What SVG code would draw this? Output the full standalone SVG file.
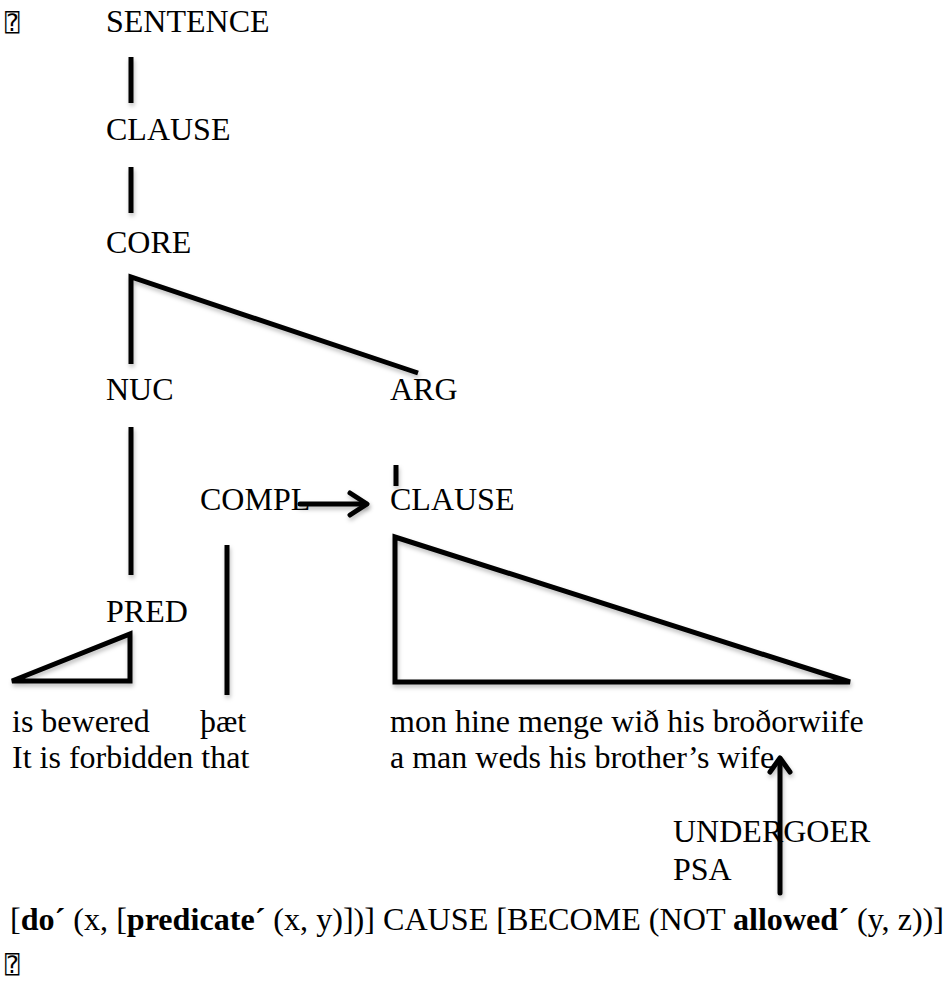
<svg xmlns="http://www.w3.org/2000/svg" width="948" height="997" viewBox="0 0 948 997">
<defs>
<filter id="sh" filterUnits="userSpaceOnUse" x="0" y="0" width="948" height="997">
<feDropShadow dx="1" dy="3" stdDeviation="2" flood-color="#000" flood-opacity="0.25"/>
</filter>
</defs>
<style>
text{font-family:"Liberation Serif","Times New Roman",serif;font-size:32px;fill:#000}
.ln{stroke:#000;stroke-width:5;fill:none;stroke-linecap:butt;stroke-linejoin:miter;filter:url(#sh)}
.ar{stroke:#000;stroke-width:5;fill:none;stroke-linecap:round;stroke-linejoin:round;filter:url(#sh)}
.b{font-weight:bold}
.tofu{font-family:"DejaVu Sans Mono","DejaVu Sans",monospace;font-size:24px}
</style>
<rect width="948" height="997" fill="#fff"/>
<text class="tofu" x="5" y="31">⍰</text>
<g id="n-sentence"><text x="106" y="32">SENTENCE</text></g>
<g id="n-clause1"><text x="106" y="140">CLAUSE</text></g>
<g id="n-core"><text x="106" y="253">CORE</text></g>
<g id="n-nuc"><text x="106" y="400">NUC</text></g>
<g id="n-arg"><text x="390" y="400">ARG</text></g>
<g id="n-compl"><text x="200" y="510">COMPL</text></g>
<g id="n-clause2"><text x="390" y="510">CLAUSE</text></g>
<g id="n-pred"><text x="106" y="622">PRED</text></g>
<g id="n-words1"><text x="12" y="732">is bewered</text><text x="12" y="768">It is forbidden that</text></g>
<g id="n-words2"><text x="200" y="732">þæt</text></g>
<g id="n-words3"><text x="390" y="732">mon hine menge wið his broðorwiife</text><text x="390" y="768">a man weds his brother’s wife</text></g>
<g id="n-undergoer"><text x="673" y="842">UNDERGOER</text><text x="673" y="880">PSA</text></g>
<g id="n-logic"><text x="10" y="930" font-size="33" textLength="934" lengthAdjust="spacingAndGlyphs">[<tspan class="b">do´</tspan> (x, [<tspan class="b">predicate´</tspan> (x, y)])] CAUSE [BECOME (NOT <tspan class="b">allowed´</tspan> (y, z))]</text></g>
<text class="tofu" x="5" y="973">⍰</text>
<g id="connectors">
<line class="ln" x1="131" y1="57" x2="131" y2="103"/>
<line class="ln" x1="131" y1="167" x2="131" y2="213"/>
<polyline class="ln" points="131,364 131,277 418,373"/>
<line class="ln" x1="131" y1="427" x2="131" y2="575"/>
<line class="ln" x1="396" y1="465" x2="396" y2="486"/>
<line class="ln" x1="227" y1="545" x2="227" y2="695"/>
<polygon class="ln" points="12,681 130,634 130,681"/>
<polygon class="ln" points="395,537 395,682 850,682"/>
<line class="ar" x1="300" y1="504" x2="366" y2="504"/>
<polyline class="ar" points="350,493 367,504 350,515"/>
<line class="ar" x1="780" y1="893" x2="780" y2="760"/>
<polyline class="ar" points="770,772 780,758 790,772"/>
</g>
</svg>
